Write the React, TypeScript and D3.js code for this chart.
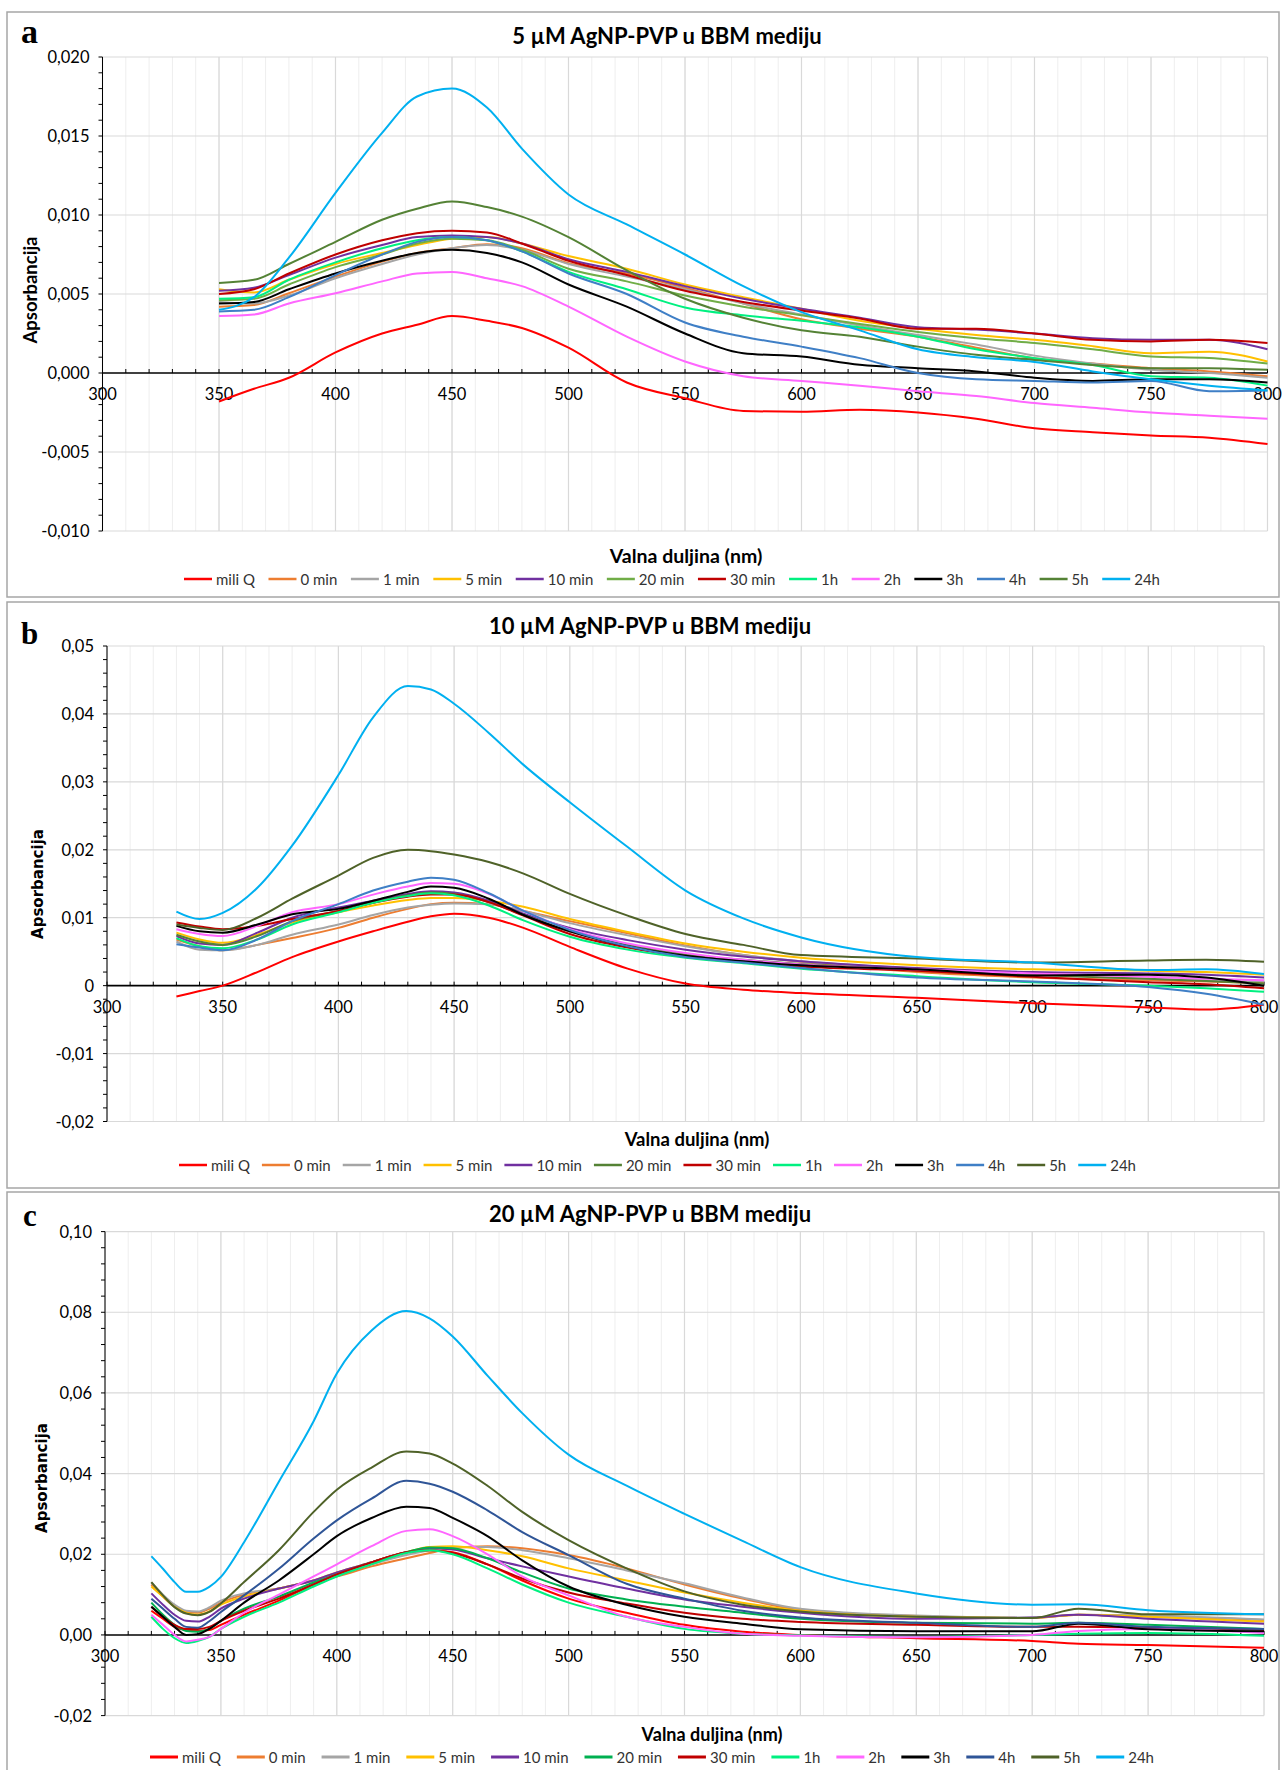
import React from "react";
import * as d3 from "d3";

// ---------------- DATA (absorbance in units of 10^-3) ----------------
const seriesNames = ["mili Q", "0 min", "1 min", "5 min", "10 min", "20 min", "30 min", "1h", "2h", "3h", "4h", "5h", "24h"];

const colorsA = ["#FF0000", "#ED7D31", "#A5A5A5", "#FFC000", "#7030A0", "#70AD47", "#C00000", "#00F080", "#FF66FF", "#000000", "#3F7FC6", "#548235", "#00B0F0"];
const colorsB = ["#FF0000", "#ED7D31", "#A5A5A5", "#FFC000", "#7030A0", "#548235", "#C00000", "#00F080", "#FF66FF", "#000000", "#3F7FC6", "#4F6228", "#00B0F0"];
const colorsC = ["#FF0000", "#ED7D31", "#A5A5A5", "#FFC000", "#7030A0", "#00B050", "#C00000", "#00F080", "#FF66FF", "#000000", "#2F5597", "#4F6228", "#00B0F0"];

const wavelengthsA = [350, 365, 380, 400, 420, 435, 450, 465, 480, 500, 525, 550, 575, 600, 625, 650, 675, 700, 725, 750, 775, 800];
const valuesA = [
  [-1.8, -1.0, -0.3, 1.3, 2.5, 3.05, 3.6, 3.3, 2.85, 1.6, -0.6, -1.6, -2.4, -2.45, -2.33, -2.5, -2.9, -3.5, -3.75, -3.96, -4.1, -4.5],
  [4.2, 4.3, 5.05, 6.1, 7.05, 7.6, 7.9, 8.15, 7.9, 6.95, 6.3, 5.4, 4.4, 3.4, 2.8, 2.3, 1.6, 0.94, 0.6, 0.3, 0.1, -0.2],
  [4.5, 4.4, 4.9, 6.0, 6.9, 7.5, 7.9, 8.1, 7.8, 6.9, 6.1, 5.3, 4.4, 3.7, 3.0, 2.4, 1.8, 1.1, 0.6, 0.2, 0.0, -0.3],
  [5.3, 5.1, 5.9, 6.9, 7.6, 8.1, 8.5, 8.6, 8.2, 7.4, 6.6, 5.6, 4.8, 4.06, 3.3, 2.8, 2.4, 2.1, 1.7, 1.25, 1.35, 0.73],
  [5.2, 5.4, 6.2, 7.3, 8.1, 8.6, 8.7, 8.6, 8.2, 7.2, 6.4, 5.5, 4.7, 4.06, 3.5, 2.9, 2.75, 2.5, 2.2, 2.1, 2.1, 1.5],
  [4.6, 4.7, 5.6, 6.7, 7.5, 8.2, 8.5, 8.4, 7.8, 6.6, 5.8, 4.9, 4.2, 3.65, 3.1, 2.6, 2.2, 1.9, 1.5, 1.05, 0.95, 0.6],
  [5.0, 5.3, 6.3, 7.5, 8.4, 8.85, 9.0, 8.9, 8.2, 7.1, 6.2, 5.2, 4.5, 3.95, 3.45, 2.8, 2.8, 2.5, 2.1, 2.0, 2.1, 1.9],
  [4.7, 4.8, 5.9, 7.0, 7.9, 8.4, 8.6, 8.4, 7.7, 6.4, 5.3, 4.15, 3.65, 3.3, 2.9, 2.3, 1.5, 0.94, 0.5, -0.2, -0.3, -0.8],
  [3.6, 3.7, 4.4, 5.05, 5.8, 6.3, 6.4, 6.0, 5.5, 4.2, 2.3, 0.73, -0.2, -0.5, -0.8, -1.15, -1.46, -1.9, -2.2, -2.5, -2.7, -2.9],
  [4.4, 4.5, 5.3, 6.3, 7.1, 7.6, 7.8, 7.6, 7.0, 5.6, 4.2, 2.5, 1.25, 1.04, 0.52, 0.3, 0.1, -0.3, -0.5, -0.4, -0.4, -0.6],
  [3.9, 4.0, 4.8, 6.2, 7.5, 8.3, 8.6, 8.4, 7.7, 6.3, 5.0, 3.2, 2.3, 1.67, 0.94, 0.0, -0.4, -0.5, -0.6, -0.5, -1.15, -1.1],
  [5.7, 5.9, 6.9, 8.3, 9.7, 10.4, 10.85, 10.5, 9.9, 8.6, 6.5, 4.7, 3.5, 2.7, 2.3, 1.67, 1.15, 0.83, 0.5, 0.3, 0.3, 0.2],
  [4.0, 4.8, 7.3, 11.4, 15.2, 17.5, 18.0, 16.8, 14.2, 11.3, 9.4, 7.5, 5.5, 3.85, 2.7, 1.5, 1.0, 0.7, 0.1, -0.4, -0.8, -1.1],
];

const wavelengthsB = [330, 340, 350, 365, 380, 400, 415, 430, 440, 450, 465, 480, 500, 525, 550, 575, 600, 650, 700, 750, 775, 800];
const valuesB = [
  [-1.6, -0.8, 0.0, 2.0, 4.2, 6.5, 8.0, 9.4, 10.2, 10.6, 10.0, 8.5, 5.7, 2.5, 0.3, -0.6, -1.1, -1.8, -2.6, -3.2, -3.5, -2.8],
  [6.8, 5.8, 5.2, 6.0, 7.0, 8.5, 10.0, 11.3, 12.0, 12.2, 12.0, 11.0, 9.5, 7.7, 5.9, 4.5, 3.5, 2.0, 1.2, 0.8, 0.6, 0.4],
  [6.5, 5.3, 5.2, 6.0, 7.5, 9.0, 10.4, 11.5, 11.9, 12.1, 12.0, 11.0, 9.2, 7.4, 5.8, 4.5, 3.6, 2.5, 1.6, 1.0, 0.8, 0.6],
  [7.8, 6.8, 6.3, 7.5, 9.3, 10.8, 11.8, 12.6, 12.9, 12.9, 12.5, 11.6, 9.8, 7.9, 6.2, 5.0, 4.1, 3.0, 2.4, 2.2, 2.0, 1.6],
  [7.3, 6.2, 6.0, 7.8, 10.0, 11.5, 12.5, 13.5, 13.9, 13.7, 12.5, 10.6, 8.5, 6.7, 5.3, 4.3, 3.6, 2.6, 2.0, 1.8, 1.6, 1.2],
  [7.5, 6.5, 6.0, 7.3, 9.5, 11.0, 12.2, 13.3, 13.7, 13.5, 12.3, 10.4, 8.0, 6.0, 4.6, 3.8, 3.2, 2.3, 1.6, 1.0, 0.7, 0.3],
  [9.3, 8.7, 8.3, 8.8, 9.8, 11.0, 12.2, 13.1, 13.4, 13.4, 12.3, 10.3, 7.6, 5.6, 4.3, 3.5, 2.8, 2.2, 1.3, 0.5, 0.2, -0.4],
  [7.0, 5.8, 5.5, 6.8, 9.0, 10.8, 12.2, 13.2, 13.6, 13.3, 11.8, 9.6, 7.2, 5.3, 4.1, 3.3, 2.5, 1.4, 0.5, 0.0, -0.4, -0.9],
  [8.3, 7.6, 7.3, 8.8, 10.8, 12.0, 13.4, 14.6, 15.1, 15.0, 13.5, 11.0, 8.3, 6.2, 4.8, 3.8, 3.1, 2.4, 1.8, 1.3, 1.0, 0.8],
  [8.8, 8.0, 7.8, 9.0, 10.5, 11.3, 12.5, 13.8, 14.6, 14.4, 12.8, 10.4, 8.0, 5.8, 4.4, 3.6, 3.0, 2.4, 1.5, 1.6, 1.2, 0.0],
  [6.1, 5.6, 5.2, 6.8, 9.5, 12.0, 14.0, 15.3, 15.9, 15.6, 13.6, 11.0, 8.2, 5.8, 4.2, 3.4, 2.6, 1.2, 0.6, -0.2, -1.2, -2.8],
  [9.0, 8.5, 8.2, 10.0, 12.8, 16.2, 18.8, 20.0, 19.8, 19.3, 18.2, 16.5, 13.5, 10.3, 7.6, 6.0, 4.5, 4.0, 3.4, 3.7, 3.8, 3.5],
  [10.9, 9.8, 10.7, 14.4, 20.6, 31.0, 39.5, 44.1, 43.6, 41.5, 37.2, 32.5, 27.0, 20.4, 14.0, 9.9, 7.1, 4.2, 3.4, 2.3, 2.4, 1.7],
];

const wavelengthsC = [320, 325, 330, 335, 340, 345, 350, 360, 375, 390, 400, 415, 430, 440, 450, 465, 480, 500, 525, 550, 575, 600, 650, 700, 720, 750, 800];
const valuesC = [
  [6.0, 4.0, 2.0, 1.2, 1.0, 1.2, 2.5, 5.0, 8.5, 12.5, 15.0, 18.0, 20.5, 21.0, 20.5, 17.5, 13.5, 9.0, 5.5, 2.5, 0.8, 0.0, -0.8, -1.5, -2.2, -2.5, -3.2],
  [12.5, 9.5, 7.0, 5.8, 5.5, 6.5, 8.0, 10.0, 11.5, 13.5, 14.5, 17.0, 19.0, 20.3, 21.5, 22.0, 21.5, 19.8, 16.5, 12.5, 9.0, 6.2, 4.7, 4.2, 5.0, 4.7, 3.7],
  [13.0, 10.0, 7.5, 6.0, 5.8, 6.8, 8.5, 10.3, 11.5, 13.5, 15.0, 17.5, 19.8, 21.0, 21.8, 21.8, 21.0, 19.0, 16.0, 12.8, 9.3, 6.5, 4.8, 4.3, 5.0, 4.8, 3.8],
  [12.0, 9.5, 7.0, 5.5, 5.0, 5.8, 7.5, 9.5, 11.5, 13.5, 15.5, 18.0, 20.5, 21.8, 22.0, 21.0, 19.5, 16.5, 13.5, 10.5, 8.0, 6.0, 4.5, 4.2, 5.0, 4.5, 3.3],
  [10.3, 7.5, 5.0, 3.5, 3.3, 4.5, 6.5, 9.0, 11.5, 13.5, 15.5, 18.0, 20.5, 21.5, 21.2, 19.0, 17.0, 14.5, 11.5, 8.8, 7.0, 5.5, 4.0, 4.3, 5.0, 4.0, 2.8],
  [8.0, 5.0, 2.5, 1.0, 0.8, 1.5, 3.5, 6.5, 9.5, 13.0, 15.0, 18.0, 20.5, 21.7, 21.5, 19.0, 15.5, 11.5, 8.8, 7.0, 5.5, 4.0, 3.0, 2.8, 3.0, 2.5, 1.5],
  [7.0, 4.5, 2.5, 1.5, 1.5, 2.0, 3.5, 6.0, 9.0, 12.5, 15.0, 18.0, 20.5, 21.0, 20.3, 17.5, 14.0, 10.5, 7.8, 5.5, 4.0, 3.2, 2.5, 2.0, 2.0, 1.8, 1.3],
  [4.5, 1.5, -0.8, -2.0, -1.5, -0.5, 1.5, 4.5, 8.0, 12.0, 14.5, 17.5, 20.3, 21.0, 20.0, 16.5, 12.5, 8.0, 4.5, 1.5, 0.3, -0.1, -0.5, 0.0, 0.3, 0.5, -0.2],
  [5.0, 2.5, 0.0, -1.6, -1.2, -0.5, 1.5, 5.5, 10.0, 14.5, 17.5, 22.0, 25.8, 26.2, 24.5, 20.0, 14.5, 9.8, 4.5, 2.0, 0.3, -0.2, -0.6, 0.0, 1.0, 1.5, 0.5],
  [7.0, 4.5, 2.0, 0.0, 0.2, 1.5, 3.5, 8.0, 13.5, 20.0, 24.5, 29.0, 31.8, 31.5, 29.0, 24.5, 18.5, 12.0, 7.5, 4.5, 2.8, 1.4, 0.9, 0.9, 2.8, 1.4, 0.9],
  [9.0, 6.5, 4.0, 2.0, 1.8, 3.4, 5.7, 9.8, 16.4, 23.9, 28.4, 33.8, 38.2, 37.5, 35.5, 30.9, 25.5, 19.8, 12.7, 9.0, 6.0, 4.3, 3.0, 2.0, 3.0, 2.0, 1.5],
  [13.1, 9.8, 6.9, 5.3, 4.9, 5.7, 7.8, 13.1, 21.0, 30.5, 36.0, 41.5, 45.5, 45.0, 42.5, 37.0, 30.5, 23.5, 16.5, 10.8, 7.5, 5.8, 4.5, 4.2, 6.5, 5.1, 5.1],
  [19.5, 16.4, 13.1, 10.7, 10.7, 11.9, 14.4, 23.0, 38.0, 53.0, 64.8, 75.5, 80.3, 78.5, 74.0, 64.3, 55.0, 44.7, 37.0, 30.0, 23.3, 16.8, 10.3, 7.5, 7.6, 6.1, 5.1],
];
const UNIT = 0.001;

// ---------------- LAYOUT ----------------
const W = 1283;
const H = 1770;
const FONT = "Lato, 'Open Sans', sans-serif";

const measureCtx = typeof document !== "undefined" ? document.createElement("canvas").getContext("2d") : null;
function textWidth(t: string, font: string) {
  if (!measureCtx) return t.length * 8;
  measureCtx.font = font;
  return measureCtx.measureText(t).width;
}

type Cfg = {
  letter: string; letterX: number; letterY: number; letterSize: number;
  title: string; titleX: number; titleY: number;
  frameY0: number; frameY1: number;
  x0: number; x1: number; y0: number; y1: number;
  yMin: number; yMax: number; yStep: number; yMinor: number;
  fmt: (v: number) => string;
  wl: number[]; vals: number[][]; colors: string[];
  xTitleX: number; xTitleY: number; xTitleSize: number;
  yTitleX: number; yTitleY: number; yTitleFont: string; yTitleSize: number;
  legendY: number; legendX0: number; legendX1: number; legendStroke: number;
};

const fmtA = (v: number) => v.toFixed(3).replace(".", ",");
const fmtB = (v: number) => (Math.abs(v) < 1e-9 ? "0" : v.toFixed(2).replace(".", ","));
const fmtC = (v: number) => (Math.abs(v) < 1e-9 ? "0,00" : v.toFixed(2).replace(".", ","));

const panels: Cfg[] = [
  {
    letter: "a", letterX: 21, letterY: 43, letterSize: 34,
    title: "5 µM AgNP-PVP u BBM mediju", titleX: 667, titleY: 44,
    frameY0: 12, frameY1: 597,
    x0: 102.5, x1: 1267.5, y0: 57, y1: 531,
    yMin: -0.01, yMax: 0.02, yStep: 0.005, yMinor: 0.001, fmt: fmtA,
    wl: wavelengthsA, vals: valuesA, colors: colorsA,
    xTitleX: 686, xTitleY: 563, xTitleSize: 19.5,
    yTitleX: 30, yTitleY: 290, yTitleFont: FONT, yTitleSize: 18.5,
    legendY: 579, legendX0: 184, legendX1: 1160, legendStroke: 2.5,
  },
  {
    letter: "b", letterX: 21, letterY: 644, letterSize: 31,
    title: "10 µM AgNP-PVP u BBM mediju", titleX: 650, titleY: 634,
    frameY0: 602, frameY1: 1188,
    x0: 107, x1: 1264, y0: 646, y1: 1121.5,
    yMin: -0.02, yMax: 0.05, yStep: 0.01, yMinor: 0.002, fmt: fmtB,
    wl: wavelengthsB, vals: valuesB, colors: colorsB,
    xTitleX: 697, xTitleY: 1146, xTitleSize: 18.5,
    yTitleX: 38, yTitleY: 884, yTitleFont: "'DejaVu Sans', sans-serif", yTitleSize: 15,
    legendY: 1165, legendX0: 179, legendX1: 1136, legendStroke: 2.5,
  },
  {
    letter: "c", letterX: 23, letterY: 1226, letterSize: 31,
    title: "20 µM AgNP-PVP u BBM mediju", titleX: 650, titleY: 1222,
    frameY0: 1192, frameY1: 1790,
    x0: 105, x1: 1264, y0: 1231.6, y1: 1715.6,
    yMin: -0.02, yMax: 0.1, yStep: 0.02, yMinor: 0.004, fmt: fmtC,
    wl: wavelengthsC, vals: valuesC, colors: colorsC,
    xTitleX: 712, xTitleY: 1741, xTitleSize: 18,
    yTitleX: 42, yTitleY: 1478, yTitleFont: "'DejaVu Sans', sans-serif", yTitleSize: 15,
    legendY: 1757, legendX0: 150, legendX1: 1154, legendStroke: 3,
  },
];

function Panel({ c }: { c: Cfg }) {
  const x = d3.scaleLinear().domain([300, 800]).range([c.x0, c.x1]);
  const y = d3.scaleLinear().domain([c.yMin, c.yMax]).range([c.y1, c.y0]);
  const minorX = d3.range(300, 801, 10);
  const majorX = d3.range(300, 801, 50);
  const nMajor = Math.round((c.yMax - c.yMin) / c.yStep);
  const majorY = d3.range(nMajor + 1).map((i) => c.yMin + i * c.yStep);
  const nMinor = Math.round((c.yMax - c.yMin) / c.yMinor);
  const minorY = d3.range(nMinor + 1).map((i) => c.yMin + i * c.yMinor);
  const y0 = y(0);

  const line = d3
    .line<number>()
    .x((_, i) => x(c.wl[i]))
    .y((v) => y(v * UNIT))
    .curve(d3.curveMonotoneX);

  // legend layout
  const legFont = `15px ${FONT}`;
  const lineLen = 28;
  const gap = 4;
  const widths = seriesNames.map((n) => lineLen + gap + textWidth(n, legFont));
  const total = d3.sum(widths);
  const itemGap = (c.legendX1 - c.legendX0 - total) / (seriesNames.length - 1);
  let cursor = c.legendX0;
  const legendItems = seriesNames.map((n, i) => {
    const item = { n, x: cursor, color: c.colors[i] };
    cursor += widths[i] + itemGap;
    return item;
  });

  return (
    <g>
      <rect x={7} y={c.frameY0} width={1272} height={c.frameY1 - c.frameY0} fill="#fff" stroke="#a6a6a6" strokeWidth={1.5} />
      {minorX.map((v) => (
        <line key={"mx" + v} x1={x(v)} x2={x(v)} y1={c.y0} y2={c.y1} stroke="#eeeeee" strokeWidth={1} />
      ))}
      {majorX.map((v) => (
        <line key={"Mx" + v} x1={x(v)} x2={x(v)} y1={c.y0} y2={c.y1} stroke="#d9d9d9" strokeWidth={1.2} />
      ))}
      {majorY.map((v, i) =>
        Math.abs(v) < 1e-9 ? null : (
          <line key={"My" + i} x1={c.x0} x2={c.x1} y1={y(v)} y2={y(v)} stroke="#d9d9d9" strokeWidth={1.2} />
        )
      )}
      <line x1={c.x0} x2={c.x0} y1={c.y0} y2={c.y1} stroke="#000" strokeWidth={1} />
      {minorY.map((v, i) => (
        <line key={"ty" + i} x1={c.x0 - 4} x2={c.x0} y1={y(v)} y2={y(v)} stroke="#000" strokeWidth={1} />
      ))}
      {majorY.map((v, i) => (
        <text key={"ly" + i} x={c.x0 - 13} y={y(v)} textAnchor="end" dominantBaseline="central" fontFamily={FONT} fontSize={16.5} fill="#000">
          {c.fmt(v)}
        </text>
      ))}
      <line x1={c.x0} x2={c.x1} y1={y0} y2={y0} stroke="#000" strokeWidth={1.6} />
      {minorX.map((v) => (
        <line key={"tx" + v} x1={x(v)} x2={x(v)} y1={y0 - 4} y2={y0} stroke="#000" strokeWidth={1} />
      ))}
      {majorX.map((v) => (
        <text key={"lx" + v} x={x(v)} y={y0 + 27} textAnchor="middle" fontFamily={FONT} fontSize={16.5} fill="#000">
          {v}
        </text>
      ))}
      {c.vals.map((vals, i) => (
        <path key={"s" + i} d={line(vals) || ""} fill="none" stroke={c.colors[i]} strokeWidth={2} strokeLinejoin="round" />
      ))}
      <text x={c.letterX} y={c.letterY} fontFamily="'Liberation Serif', 'DejaVu Serif', serif" fontWeight="bold" fontSize={c.letterSize} fill="#000">
        {c.letter}
      </text>
      <text x={c.titleX} y={c.titleY} textAnchor="middle" fontFamily={FONT} fontWeight="bold" fontSize={22} fill="#000">
        {c.title}
      </text>
      <text x={c.xTitleX} y={c.xTitleY} textAnchor="middle" fontFamily={FONT} fontWeight="bold" fontSize={c.xTitleSize} fill="#000">
        Valna duljina (nm)
      </text>
      <text
        transform={`translate(${c.yTitleX},${c.yTitleY}) rotate(-90)`}
        textAnchor="middle"
        dominantBaseline="central"
        fontFamily={c.yTitleFont}
        fontWeight="bold"
        fontSize={c.yTitleSize}
        fill="#000"
      >
        Apsorbancija
      </text>
      {legendItems.map((it) => (
        <g key={"lg" + it.n}>
          <line x1={it.x} x2={it.x + lineLen} y1={c.legendY} y2={c.legendY} stroke={it.color} strokeWidth={c.legendStroke} />
          <text x={it.x + lineLen + gap} y={c.legendY} dominantBaseline="central" fontFamily={FONT} fontSize={15} fill="#333">
            {it.n}
          </text>
        </g>
      ))}
    </g>
  );
}

export default function App() {
  return (
    <div style={{ position: "absolute", left: 0, top: 0, width: W, height: H, background: "#fff" }}>
      <svg width={W} height={H} viewBox={`0 0 ${W} ${H}`} style={{ display: "block" }}>
        <rect x={0} y={0} width={W} height={H} fill="#fff" />
        {panels.map((p) => (
          <Panel key={p.letter} c={p} />
        ))}
      </svg>
    </div>
  );
}
